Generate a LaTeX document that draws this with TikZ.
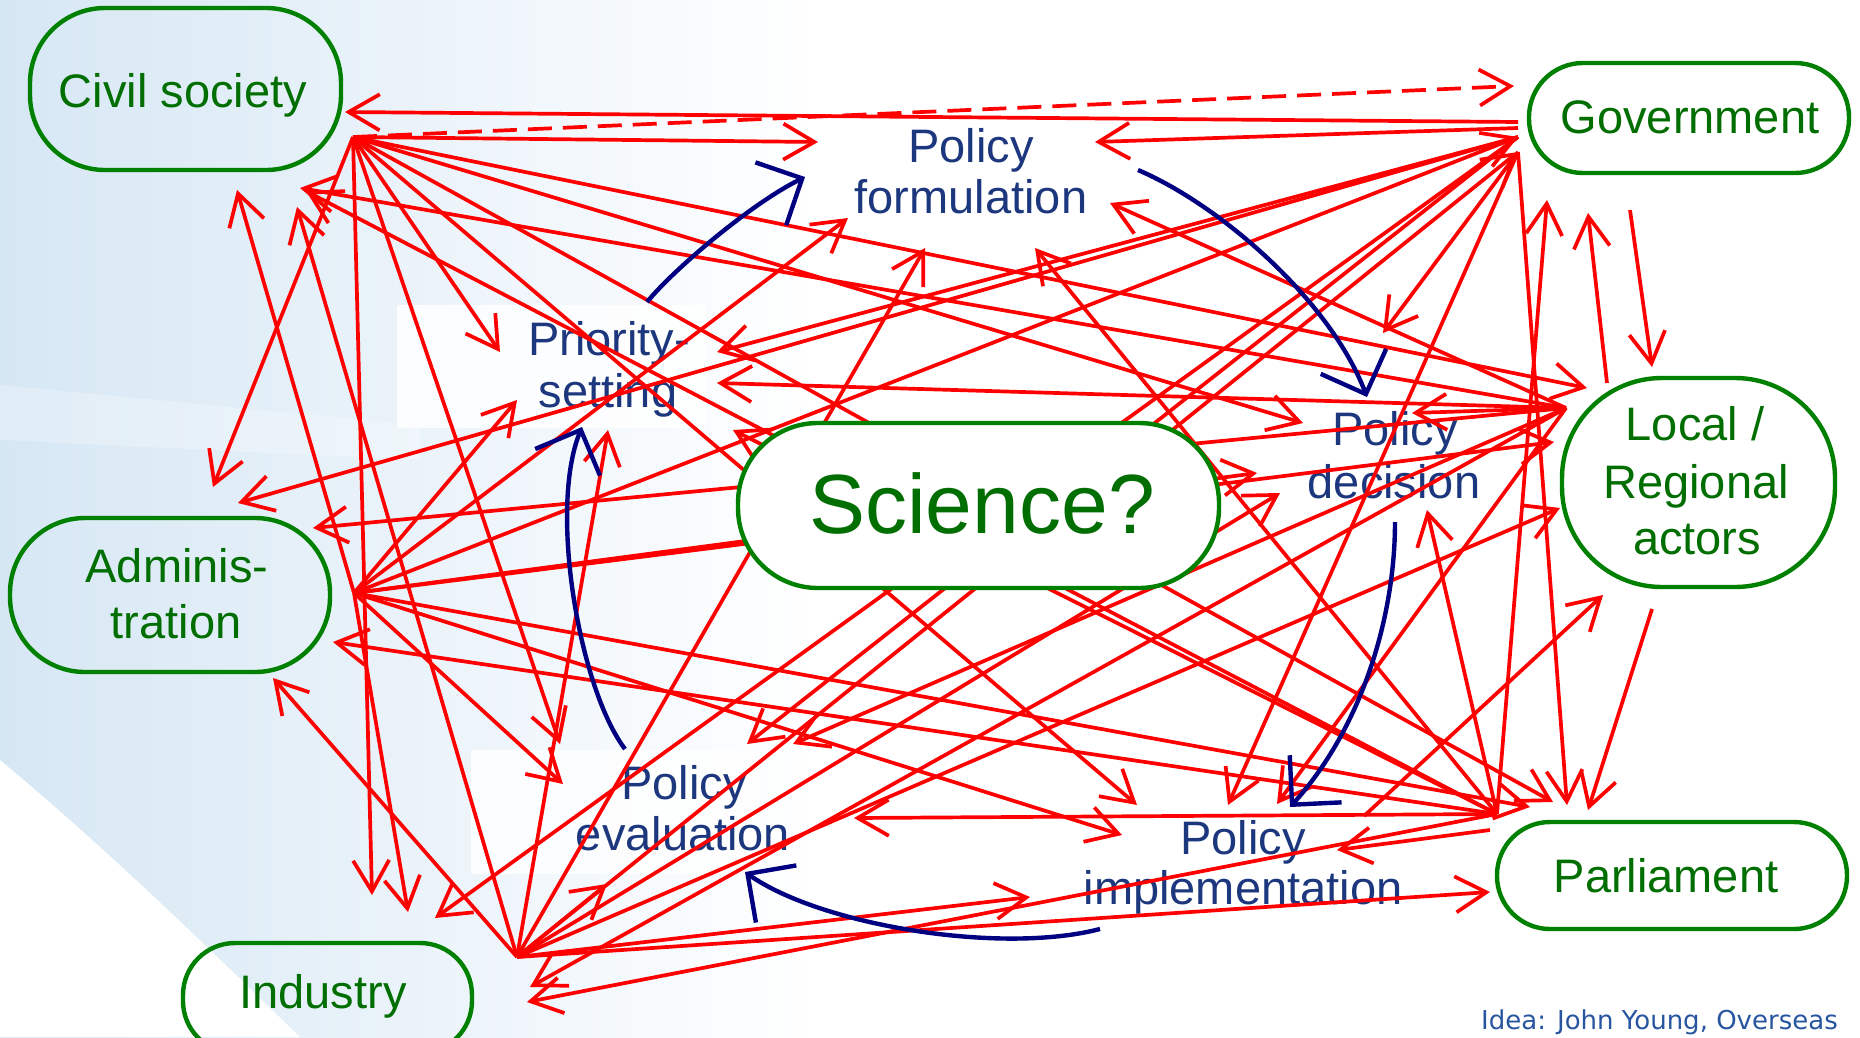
\documentclass[tikz,border=0pt]{standalone}
\usepackage{fontspec}
\setmainfont{Liberation Sans}
\newfontfamily\ideafont{DejaVu Sans}
\usetikzlibrary{arrows.meta}
\definecolor{boxgreen}{RGB}{0,128,0}
\definecolor{txtgreen}{RGB}{0,110,0}
\definecolor{procblue}{RGB}{28,55,125}
\definecolor{cyclenavy}{RGB}{0,0,128}
\definecolor{ideablue}{RGB}{40,85,160}
\definecolor{bgblue}{RGB}{214,231,244}
\begin{document}
\begin{tikzpicture}[x=1pt,y=-1pt,
  actorbox/.style={draw=boxgreen,line width=4.4pt,inner sep=0pt},
  actortext/.style={text=txtgreen,font=\fontsize{47}{50}\selectfont,inner sep=0pt,anchor=base},
  proctext/.style={text=procblue,font=\fontsize{47}{50}\selectfont,inner sep=0pt,anchor=base},
  redarr/.style={draw=red,line width=3.7pt,-{Straight Barb[length=31pt,width=36pt]}},
  cyc/.style={draw=cyclenavy,line width=4.4pt,-{Straight Barb[length=35pt,width=70pt]}}]
\useasboundingbox (0,0) rectangle (1860,1037);
% background
\fill[white] (0,0) rectangle (1860,1037);
\shade[left color=bgblue,right color=white] (0,0) rectangle (820,1037);
\fill[white,opacity=0.25] (0,385) -- (420,425) -- (420,460) -- (0,440) -- cycle;
\fill[white] (0,760) .. controls (120,860) and (220,960) .. (300,1037) -- (0,1037) -- cycle;
\fill[white,opacity=0.8] (397,305) rectangle (706,428);
\fill[white,opacity=0.8] (471,750) rectangle (760,874);
% process labels
\node[proctext] (pfa) at (971,162) {Policy};
\node[proctext] (pfb) at (971,213) {formulation};
\node[proctext] (psa) at (609,355) {Priority-};
\node[proctext] (psb) at (608,407) {setting};
\node[proctext] (pda) at (1395,445) {Policy};
\node[proctext] (pdb) at (1394,498) {decision};
\node[proctext] (pea) at (684,799) {Policy};
\node[proctext] (peb) at (683,850) {evaluation};
\node[proctext] (pia) at (1243,854) {Policy};
\node[proctext] (pib) at (1243,904) {implementation};
% hubs
\coordinate (hC) at (353,137);
\coordinate (hG) at (1518,137);
\coordinate (hG1) at (1518,122);
\coordinate (hG2) at (1518,128);
\coordinate (hG3) at (1518,152);
\coordinate (hA) at (354,593);
\coordinate (hI) at (517,957);
\coordinate (hL) at (1566,408);
\coordinate (hP) at (1497,814);
\coordinate (hP2) at (1490,830);
\coordinate (sGL) at (1630,210);
\coordinate (sLG) at (1607,383);
\coordinate (sLP) at (1652,609);
\coordinate (sPL) at (1364,816);
% tips
\coordinate (tGc) at (1514,86);
\coordinate (csG) at (345,112);
\coordinate (csI) at (297,207);
\coordinate (csL) at (300,188);
\coordinate (csP) at (306,191);
\coordinate (csA) at (237,190);
\coordinate (gL) at (1588,213);
\coordinate (gP) at (1547,200);
\coordinate (aC) at (213,487);
\coordinate (aG) at (238,503);
\coordinate (aL) at (313,528);
\coordinate (aP) at (333,642);
\coordinate (aI) at (273,678);
\coordinate (iC) at (372,895);
\coordinate (iA) at (408,912);
\coordinate (iG) at (435,918);
\coordinate (iL) at (530,987);
\coordinate (iP) at (527,1002);
\coordinate (lC) at (1587,388);
\coordinate (lA) at (1554,442);
\coordinate (lI) at (1560,508);
\coordinate (lG) at (1652,367);
\coordinate (lP) at (1603,595);
\coordinate (pC) at (1553,802);
\coordinate (pA) at (1530,807);
\coordinate (pG) at (1567,805);
\coordinate (pL) at (1588,810);
\coordinate (pI) at (1490,892);
\coordinate (psC) at (500,352);
\coordinate (psG) at (717,352);
\coordinate (psL) at (717,383);
\coordinate (psA) at (517,400);
\coordinate (psI) at (608,430);
\coordinate (psP) at (733,430);
\coordinate (pfC) at (818,142);
\coordinate (pfG) at (1095,142);
\coordinate (pfL) at (1110,203);
\coordinate (pfA) at (848,218);
\coordinate (pfI) at (925,248);
\coordinate (pfP) at (1035,248);
\coordinate (pdG) at (1383,333);
\coordinate (pdC) at (1303,423);
\coordinate (pdA) at (1257,473);
\coordinate (pdI) at (1280,493);
\coordinate (pdL) at (1412,413);
\coordinate (pdP) at (1427,510);
\coordinate (peC) at (560,744);
\coordinate (peA) at (563,784);
\coordinate (peG) at (747,744);
\coordinate (peL) at (793,744);
\coordinate (peP) at (854,818);
\coordinate (peI) at (607,884);
\coordinate (piC) at (1137,805);
\coordinate (piA) at (1122,835);
\coordinate (piG) at (1228,805);
\coordinate (piL) at (1277,804);
\coordinate (piP) at (1337,850);
\coordinate (piI) at (1030,897);
% civil society
\draw[redarr,dash pattern=on 24pt off 11pt] (hC) -- (tGc);
\foreach \t in {pfC,psC,pdC,peC,piC,aC,iC,lC,pC} \draw[redarr] (hC) -- (\t);
% government
\draw[redarr] (hG1) -- (csG);
\draw[redarr] (hG2) -- (pfG);
\foreach \t in {psG,peG,aG,iG} \draw[redarr] (hG) -- (\t);
\foreach \t in {pdG,piG,pG} \draw[redarr] (hG3) -- (\t);
\draw[redarr] (sGL) -- (lG);
% administration
\foreach \t in {csA,psA,pfA,pdA,peA,piA,hG,iA,lA,pA} \draw[redarr] (hA) -- (\t);
% industry
\foreach \t in {csI,aI,psI,pfI,pdI,peI,piI,hG3,lI,pI} \draw[redarr] (hI) -- (\t);
% local
\foreach \t in {csL,aL,psL,pfL,pdL,peL,piL,iL} \draw[redarr] (hL) -- (\t);
\draw[redarr] (sLG) -- (gL);
\draw[redarr] (sLP) -- (pL);
% parliament
\foreach \t in {csP,aP,psP,pfP,pdP,peP,iP,gP} \draw[redarr] (hP) -- (\t);
\draw[redarr] (hP2) -- (piP);
\draw[redarr] (sPL) -- (lP);
% policy cycle
\coordinate (c1s) at (647,302); \coordinate (c1e) at (805,177);
\coordinate (c2s) at (1138,170); \coordinate (c2e) at (1367,397);
\coordinate (c3s) at (1395,522); \coordinate (c3e) at (1290,807);
\coordinate (c4s) at (1100,929); \coordinate (c4e) at (745,872);
\coordinate (c5s) at (625,749); \coordinate (c5e) at (582,427);
\draw[cyc] (c1s) .. controls (675,268) and (752,203) .. (c1e);
\draw[cyc] (c2s) .. controls (1220,205) and (1330,300) .. (c2e);
\draw[cyc] (c3s) .. controls (1395,620) and (1360,730) .. (c3e);
\draw[cyc] (c4s) .. controls (1000,955) and (820,925) .. (c4e);
\draw[cyc] (c5s) .. controls (580,690) and (548,510) .. (c5e);
% science
\node[actorbox,fill=white,minimum width=481pt,minimum height=165pt,rounded corners=80pt] (sci) at (978.5,505.5) {};
\node[text=txtgreen,font=\fontsize{84}{90}\selectfont,inner sep=0pt,anchor=base] (scit) at (982,533) {Science?};
% actors
\node[actorbox,minimum width=311pt,minimum height=162pt,rounded corners=75pt] (cs) at (185.5,89) {};
\node[actortext] (cst) at (183,107) {Civil society};
\node[actorbox,minimum width=320pt,minimum height=110pt,rounded corners=54pt] (gov) at (1689,118) {};
\node[actortext] (govt) at (1690,133) {Government};
\node[actorbox,minimum width=273pt,minimum height=209pt,rounded corners=100pt] (loc) at (1698.5,482.5) {};
\node[actortext] (loct1) at (1695,440) {Local /};
\node[actortext] (loct2) at (1696,498) {Regional};
\node[actortext] (loct3) at (1697,554) {actors};
\node[actorbox,minimum width=350pt,minimum height=107pt,rounded corners=53pt] (parl) at (1672,875.5) {};
\node[actortext] (parlt) at (1666,892) {Parliament};
\node[actorbox,minimum width=289pt,minimum height=110pt,rounded corners=52pt] (ind) at (327.5,998) {};
\node[actortext] (indt) at (323,1008) {Industry};
\node[actorbox,minimum width=320pt,minimum height=154pt,rounded corners=75pt] (adm) at (170,595) {};
\node[actortext] (admt1) at (177,582) {Adminis-};
\node[actortext] (admt2) at (176,638) {tration};
% credit
\node[text=ideablue,font=\ideafont\fontsize{26}{28}\selectfont,inner sep=0pt,anchor=base west] (idea) at (1481,1029) {Idea: John Young, Overseas};
\end{tikzpicture}
\end{document}
